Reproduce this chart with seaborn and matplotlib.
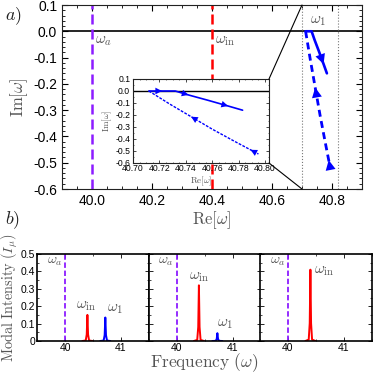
import numpy as np
import pandas as pd
import matplotlib
matplotlib.use('Agg')
import matplotlib.pyplot as plt
from matplotlib.patches import ConnectionPatch
from matplotlib.ticker import MultipleLocator, FuncFormatter
import seaborn as sns

# ---- data ----
# panel a: pole trajectories in the complex plane
re_solid = [40.712, 40.722, 40.732, 40.742, 40.757, 40.772, 40.783]
im_solid = [0.0, 0.0, 0.0, -0.033, -0.078, -0.125, -0.160]
re_dashed = [40.712, 40.728, 40.744, 40.760, 40.777, 40.789, 40.795]
im_dashed = [0.0, -0.110, -0.214, -0.318, -0.420, -0.490, -0.525]
omega_a = 40.0
omega_in = 40.4
zoom_box = [40.70, 40.82]

# panel b: modal intensity spectra (three pump strengths)
red_center = 40.40
red_height = [0.15, 0.32, 0.41]
blue_center = [40.72, 40.73, 40.73]
blue_height = [0.135, 0.045, 0.0]
# shape of one spike (offset from centre, fraction of height)
spike_offset = [-0.09, -0.03, -0.012, 0.0, 0.012, 0.03, 0.09]
spike_shape = [0.0, 0.02, 0.25, 1.0, 0.25, 0.02, 0.0]

sns.set_style('ticks')
plt.rcParams['font.family'] = ['Liberation Sans', 'DejaVu Sans']
plt.rcParams['mathtext.fontset'] = 'cm'
plt.rcParams['axes.unicode_minus'] = False
plt.rcParams['xtick.direction'] = 'in'
plt.rcParams['ytick.direction'] = 'in'

gray = '#555555'
purple = '#8c1cff'
W, H = 374, 375
fig = plt.figure(figsize=(W / 100, H / 100), dpi=100)


def box(l, t, r, b):
    return [l / W, 1 - b / H, (r - l) / W, (b - t) / H]


def arrow(ax, xs, ys, i, j, size):
    # arrow head at point i, coming from point j
    ax.annotate('', xy=(xs[i], ys[i]), xytext=(xs[j], ys[j]),
                arrowprops=dict(arrowstyle='-|>', color='blue', lw=0,
                                mutation_scale=size, shrinkA=0, shrinkB=0))


def ticks_all(ax):
    ax.tick_params(which='both', top=True, right=True, colors='black')
    for s in ax.spines.values():
        s.set_color('#222222')


# ---- panel a ----
ax = fig.add_axes(box(62, 5, 362, 189))
df_s = pd.DataFrame({'re': re_solid, 'im': im_solid})
df_d = pd.DataFrame({'re': re_dashed, 'im': im_dashed})
ax.axhline(0, color='black', lw=1.2)
ax.axvline(omega_a, color=purple, lw=1.8, ls=(0, (4, 2)))
ax.axvline(omega_in, color='red', lw=1.8, ls=(0, (4, 2)))
for xb in zoom_box:
    ax.axvline(xb, color='#777777', lw=0.8, ls=':')
sns.lineplot(data=df_s, x='re', y='im', sort=False, color='blue', lw=1.9, ax=ax)
sns.lineplot(data=df_d, x='re', y='im', sort=False, color='blue', lw=2.0,
             ls=(0, (2.5, 1.6)), ax=ax)
arrow(ax, re_solid, im_solid, 5, 4, 18)
arrow(ax, re_dashed, im_dashed, 2, 3, 18)
arrow(ax, re_dashed, im_dashed, 5, 6, 18)
ax.set_xlim(39.9, 40.9)
ax.set_ylim(-0.6, 0.1)
ax.xaxis.set_major_locator(MultipleLocator(0.2))
ax.xaxis.set_minor_locator(MultipleLocator(0.05))
ax.yaxis.set_major_locator(MultipleLocator(0.1))
ax.yaxis.set_minor_locator(MultipleLocator(0.02))
ax.xaxis.set_major_formatter(FuncFormatter(lambda v, p: f'{v:.1f}'))
ax.yaxis.set_major_formatter(FuncFormatter(lambda v, p: f'{v:.1f}'))
ax.tick_params(which='major', length=4, width=0.8, labelsize=10)
ax.tick_params(which='minor', length=2, width=0.6)
ticks_all(ax)
ax.set_xlabel(r'$\mathrm{Re}[\omega]$', color=gray, fontsize=12, labelpad=1)
ax.set_ylabel(r'$\mathrm{Im}[\omega]$', color=gray, fontsize=12, labelpad=2)
ax.text(omega_a + 0.01, -0.012, r'$\omega_a$', color=gray, fontsize=11, va='top')
ax.text(omega_in + 0.01, -0.012, r'$\omega_{\mathrm{in}}$', color=gray, fontsize=11, va='top')
ax.text(40.725, 0.012, r'$\omega_1$', color=gray, fontsize=11, va='bottom')
fig.text(5 / W, 1 - 16 / H, r'$a)$', fontsize=13, color='#222222', va='center')

# ---- inset ----
axi = fig.add_axes(box(133, 79, 269, 163))
axi.axhline(0, color='black', lw=1.0)
sns.lineplot(data=df_s, x='re', y='im', sort=False, color='blue', lw=1.2, ax=axi)
sns.lineplot(data=df_d, x='re', y='im', sort=False, color='blue', lw=1.0,
             ls=(0, (2, 1)), ax=axi)
arrow(axi, re_solid, im_solid, 1, 0, 12)
arrow(axi, re_solid, im_solid, 3, 2, 12)
arrow(axi, re_solid, im_solid, 5, 4, 12)
arrow(axi, re_dashed, im_dashed, 2, 3, 12)
arrow(axi, re_dashed, im_dashed, 5, 6, 12)
axi.set_xlim(40.70, 40.803)
axi.set_ylim(-0.6, 0.1)
axi.xaxis.set_major_locator(MultipleLocator(0.02))
axi.xaxis.set_minor_locator(MultipleLocator(0.005))
axi.yaxis.set_major_locator(MultipleLocator(0.1))
axi.yaxis.set_minor_locator(MultipleLocator(0.05))
axi.xaxis.set_major_formatter(FuncFormatter(lambda v, p: f'{v:.2f}'))
axi.yaxis.set_major_formatter(FuncFormatter(lambda v, p: f'{v:.1f}'))
axi.tick_params(which='major', length=2, width=0.5, labelsize=6.2, pad=1)
axi.tick_params(axis='y', which='major', pad=2)
axi.tick_params(which='minor', length=1, width=0.4)
ticks_all(axi)
axi.set_xlabel(r'$\mathrm{Re}[\omega]$', color=gray, fontsize=6.5, labelpad=1)
axi.set_ylabel(r'$\mathrm{Im}[\omega]$', color=gray, fontsize=6.5, labelpad=1)
for ya, yb in [(1, 0.1), (0, -0.6)]:
    con = ConnectionPatch(xyA=(1, ya), coordsA=axi.transAxes,
                          xyB=(zoom_box[0], yb), coordsB=ax.transData,
                          color='black', lw=0.8)
    fig.add_artist(con)

# ---- panel b ----
lefts = [37, 148.5, 260]
for k in range(3):
    axb = fig.add_axes(box(lefts[k], 254, lefts[k] + 112, 341))
    axb.axvline(omega_a, color=purple, lw=1.3, ls=(0, (3, 1.5)))
    red = pd.DataFrame({'f': [red_center + o for o in spike_offset],
                        'I': [red_height[k] * s for s in spike_shape]})
    sns.lineplot(data=red, x='f', y='I', sort=False, color='red', lw=1.4, ax=axb)
    if blue_height[k] > 0:
        blue = pd.DataFrame({'f': [blue_center[k] + o for o in spike_offset],
                             'I': [blue_height[k] * s for s in spike_shape]})
        sns.lineplot(data=blue, x='f', y='I', sort=False, color='blue', lw=1.4, ax=axb)
    axb.set_xlim(39.5, 41.5)
    axb.set_ylim(0, 0.5)
    axb.set_xticks([40, 41])
    axb.xaxis.set_minor_locator(MultipleLocator(0.5))
    axb.yaxis.set_major_locator(MultipleLocator(0.1))
    axb.yaxis.set_minor_locator(MultipleLocator(0.05))
    axb.yaxis.set_major_formatter(FuncFormatter(lambda v, p: '0' if abs(v) < 1e-9 else f'{v:.1f}'))
    axb.tick_params(which='major', length=3, width=0.6, labelsize=7.5, pad=1.5)
    axb.tick_params(which='minor', length=1.5, width=0.5)
    ticks_all(axb)
    for s in axb.spines.values():
        s.set_linewidth(1.2)
        s.set_color('black')
    if k > 0:
        axb.set_yticklabels([])
    axb.set_xlabel('')
    axb.set_ylabel('')
    axb.text(39.95, 0.46, r'$\omega_a$', color=gray, fontsize=10, ha='right', va='center')
    if k == 0:
        axb.text(40.38, 0.16, r'$\omega_{\mathrm{in}}$', color=gray, fontsize=11, ha='center', va='bottom')
        axb.text(40.75, 0.145, r'$\omega_1$', color=gray, fontsize=11, ha='left', va='bottom')
        axb.set_ylabel(r'$\mathrm{Modal\ Intensity}\ (I_\mu)$', color=gray, fontsize=10.3, labelpad=0.5)
    elif k == 1:
        axb.text(40.4, 0.33, r'$\omega_{\mathrm{in}}$', color=gray, fontsize=11, ha='center', va='bottom')
        axb.text(40.73, 0.055, r'$\omega_1$', color=gray, fontsize=11, ha='left', va='bottom')
        axb.set_xlabel(r'$\mathrm{Frequency}\ (\omega)$', color=gray, fontsize=12.5, labelpad=-1)
    else:
        axb.text(40.47, 0.40, r'$\omega_{\mathrm{in}}$', color=gray, fontsize=11, ha='left', va='center')
fig.text(5 / W, 1 - 220 / H, r'$b)$', fontsize=13, color='#222222', va='center')

fig.savefig('out.png', dpi=100)
